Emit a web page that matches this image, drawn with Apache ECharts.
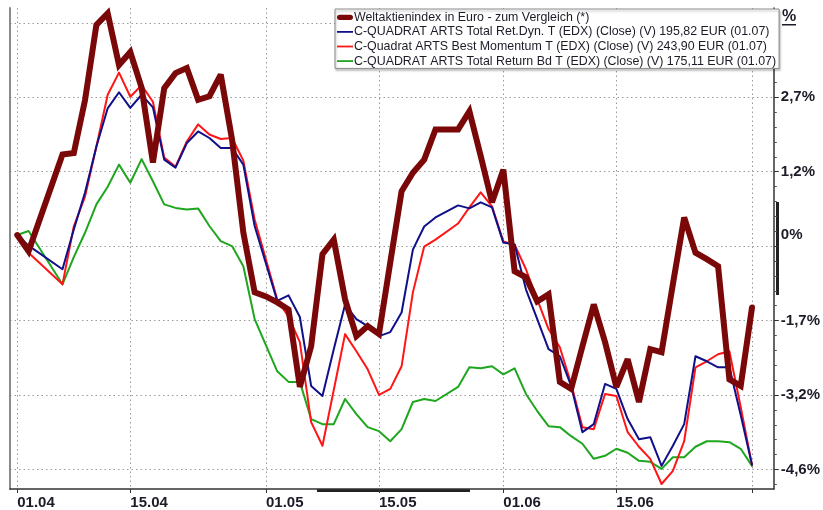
<!DOCTYPE html>
<html>
<head>
<meta charset="utf-8">
<script src="https://cdn.jsdelivr.net/npm/echarts@6/dist/echarts.min.js"></script>
<style>
  html, body { margin: 0; padding: 0; background: #ffffff; }
  #chart { width: 823px; height: 510px; }
</style>
</head>
<body>
<div id="chart"></div>
<script>
// Trading days (Mon–Fri) from 01.04.2015 to 01.07.2015; index 0 = 01.04.
const firstDay = Date.UTC(2015, 3, 1);
const lastDay = Date.UTC(2015, 6, 1);
const days = [];
for (let t = firstDay; t <= lastDay; t += 86400000) {
  const d = new Date(t);
  const wd = d.getUTCDay();
  if (wd !== 0 && wd !== 6) {
    days.push(String(d.getUTCDate()).padStart(2, '0') + '.' + String(d.getUTCMonth() + 1).padStart(2, '0'));
  }
}

// Date labels on the time axis, plus the closing date tick (unlabelled)
const xLabelDates = ['01.04', '15.04', '01.05', '15.05', '01.06', '15.06'];
const xTickDates = ['01.04', '15.04', '01.05', '15.05', '01.06', '15.06', '01.07'];

// Performance in % since 01.04. (null = no price that day)
const seriesNames = [
  'Weltaktienindex in Euro - zum Vergleich (*)',
  'C-QUADRAT ARTS Total Ret.Dyn. T (EDX) (Close) (V) 195,82 EUR (01.07)',
  'C-Quadrat ARTS Best Momentum T (EDX) (Close) (V) 243,90 EUR (01.07)',
  'C-QUADRAT ARTS Total Return Bd T (EDX) (Close) (V) 175,11 EUR (01.07)'
];

const worldIndex = [
  0.00, -0.32, null, null, 1.60, 1.63, 2.69, 4.18, 4.41, 3.38,
  3.64, 2.93, 1.44, 2.92, 3.22, 3.32, 2.69, 2.76, 3.19, 1.90,
  0.05, -1.14, -1.22, -1.34, -1.48, -3.02, -2.21, -0.38, -0.09, -1.28,
  -2.01, -1.81, -1.97, -0.54, 0.87, 1.24, 1.50, 2.10, null, 2.10,
  2.46, 1.57, 0.65, 1.30, -0.72, -0.84, -1.32, -1.18, -2.92, -3.06,
  -2.21, -1.38, -2.13, -3.02, -2.47, -3.32, -2.27, -2.33, -0.98, 0.35,
  -0.35, -0.48, -0.62, -2.87, -3.00, -1.44
];

const totalRetDyn = [
  0.00, -0.21, null, null, -0.68, 0.11, 0.85, 1.76, 2.52, 2.84,
  2.53, 2.79, 2.54, 1.50, 1.34, 1.83, 2.06, 1.93, 1.73, 1.73,
  1.40, 0.18, null, -1.31, -1.20, -1.63, -3.00, -3.20, -2.27, -1.38,
  -1.67, -1.81, -2.01, -1.93, -1.54, -0.29, 0.17, 0.35, null, 0.59,
  0.53, 0.65, 0.55, -0.15, -0.19, -1.08, -1.67, -2.27, -2.41, -3.00,
  -3.92, -3.76, -2.96, -3.06, -3.66, -4.06, -4.02, -4.59, -4.19, -3.76,
  -2.41, -2.51, -2.63, -2.63, -3.58, -4.57
];

const bestMomentum = [
  0.00, -0.35, null, null, -0.98, 0.17, 0.77, 1.76, 2.79, 3.23,
  2.75, 2.98, 2.65, 1.54, 1.36, 1.86, 2.20, 2.00, 1.91, 1.93,
  1.48, 0.31, null, -1.28, -1.63, -2.13, -3.72, -4.19, -3.08, -1.97,
  -2.31, -2.67, -3.18, -3.06, -2.61, -1.14, -0.23, -0.09, null, 0.23,
  0.55, 0.85, 0.57, -0.13, -0.19, -0.68, -1.28, -1.87, -2.23, -2.96,
  -3.82, -3.86, -3.16, -3.20, -3.92, -4.21, -4.45, -4.95, -4.69, -4.10,
  -2.63, -2.51, -2.37, -2.31, -3.42, -4.57
];

const totalReturnBd = [
  0.00, 0.08, null, null, -0.98, -0.44, 0.05, 0.61, 0.96, 1.40,
  1.04, 1.51, 1.07, 0.61, 0.54, 0.51, 0.53, 0.18, -0.12, -0.22,
  -0.62, -1.67, null, -2.71, -2.92, -2.92, -3.66, -3.76, -3.76, -3.26,
  -3.56, -3.82, -3.90, -4.10, -3.86, -3.32, -3.26, -3.30, null, -3.02,
  -2.63, -2.65, -2.61, -2.77, -2.65, -3.16, -3.50, -3.80, -3.82, -4.00,
  -4.15, -4.45, -4.39, -4.25, -4.33, -4.49, -4.51, -4.65, -4.42, -4.42,
  -4.21, -4.10, -4.10, -4.12, -4.25, -4.59
];

// Percent axis: tick labels and the values they sit at
const yLabelTexts = ['2,7%', '1,2%', '0%', '-1,7%', '-3,2%', '-4,6%'];
const yLabelValues = [2.741, 1.2605, 0, -1.7007, -3.1812, -4.6617];

// Axis geometry (grid spacing of the percent scale)
const Y_MIN = -5.05, Y_MAX = 4.515;
const GRID_BASE = -0.2202, GRID_STEP = 1.4805;
const gridValues = [], minorValues = [];
for (let k = -4; k <= 4; k++) {
  const g = GRID_BASE + k * GRID_STEP;
  if (g >= Y_MIN && g <= Y_MAX) gridValues.push(g);
  for (let m = 1; m < 5; m++) {
    const v = g + m * GRID_STEP / 5;
    if (v >= Y_MIN && v <= Y_MAX) minorValues.push(v);
  }
}

const toPoints = arr => arr.map((v, i) => [i, v]).filter(p => p[1] !== null);

const FONT = '"Liberation Sans", Arial, sans-serif';
const TEXT = '#1c1c28';

const colors = ['#7a0808', '#10108a', '#ff1515', '#1fa61f'];
const widths = [6, 2, 2, 2];
const values = [worldIndex, totalRetDyn, bestMomentum, totalReturnBd];

const thickIcon = 'path://M3,0H15A3,3,0,0,1,15,6H3A3,3,0,0,1,3,0Z';
const thinIcon = 'path://M0,0H18V2H0Z';

// Drawing order: green, red, blue, then the thick index line on top
const drawOrder = [3, 2, 1, 0];

const chart = echarts.init(document.getElementById('chart'), null, { renderer: 'canvas' });

chart.setOption({
  animation: false,
  backgroundColor: '#ffffff',
  grid: { left: 10, right: 46, top: 8, bottom: 20, containLabel: false },
  legend: {
    orient: 'vertical',
    left: 335,
    top: 9,
    padding: [1, 3, 0, 2],
    itemGap: 0,
    itemWidth: 16,
    itemHeight: 14,
    backgroundColor: '#ffffff',
    borderColor: '#8a8a8a',
    borderWidth: 1,
    shadowColor: 'rgba(0,0,0,0.25)',
    shadowOffsetY: 2,
    shadowOffsetX: 1,
    shadowBlur: 2,
    selectedMode: false,
    textStyle: { fontFamily: FONT, fontSize: 12.4, color: TEXT, lineHeight: 14.6, padding: [0, 0, 0, -4] },
    data: seriesNames.map((n, i) => ({ name: n, icon: i === 0 ? thickIcon : thinIcon }))
  },
  xAxis: {
    type: 'value',
    min: -0.643,
    max: 66.93,
    axisLine: { show: true, onZero: false, lineStyle: { color: '#333', width: 1.5 } },
    axisTick: {
      show: true, length: 4, inside: false,
      customValues: xTickDates.map(d => days.indexOf(d)),
      lineStyle: { color: '#333', width: 1 }
    },
    axisLabel: {
      show: true,
      customValues: xLabelDates.map(d => days.indexOf(d)),
      formatter: v => days[Math.round(v)],
      align: 'left',
      margin: 6,
      fontFamily: FONT, fontSize: 15, fontWeight: 'bold', color: TEXT
    },
    splitLine: { show: true, lineStyle: { color: '#9a9a9a', width: 1, type: [1.5, 3] } }
  },
  yAxis: [
    {
      type: 'value',
      position: 'right',
      min: Y_MIN,
      max: Y_MAX,
      axisLine: { show: true, onZero: false, lineStyle: { color: '#333', width: 1.5 } },
      axisTick: { show: true, length: 5, inside: false, customValues: gridValues, lineStyle: { color: '#333' } },
      axisLabel: {
        show: true,
        customValues: yLabelValues,
        formatter: v => {
          let best = 0;
          yLabelValues.forEach((lv, i) => { if (Math.abs(lv - v) < Math.abs(yLabelValues[best] - v)) best = i; });
          return yLabelTexts[best];
        },
        margin: 7,
        fontFamily: FONT, fontSize: 15, fontWeight: 'bold', color: TEXT
      },
      splitLine: { show: true, lineStyle: { color: '#9a9a9a', width: 1, type: [1.5, 3] } }
    },
    {
      // minor ticks on the percent axis
      type: 'value',
      position: 'right',
      min: Y_MIN,
      max: Y_MAX,
      axisLine: { show: false, onZero: false },
      axisTick: { show: true, length: 3, inside: false, customValues: minorValues, lineStyle: { color: '#555' } },
      axisLabel: { show: false },
      splitLine: { show: false }
    },
    {
      // left frame line
      type: 'value',
      position: 'left',
      min: Y_MIN,
      max: Y_MAX,
      axisLine: { show: true, onZero: false, lineStyle: { color: '#8a8a8a', width: 2 } },
      axisTick: { show: false },
      axisLabel: { show: false },
      splitLine: { show: false }
    }
  ],
  graphic: [
    {
      type: 'text', left: 782, top: 9,
      style: { text: '%', fontFamily: FONT, fontSize: 16, fontWeight: 'bold', fill: TEXT }
    },
    {
      type: 'rect', left: 782, top: 24, shape: { width: 14, height: 1.5 },
      style: { fill: TEXT }
    },
    {
      type: 'rect', left: 776, top: 202, shape: { width: 3, height: 93 },
      style: { fill: '#222' }
    },
    {
      type: 'rect', left: 317, top: 489, shape: { width: 153, height: 3 },
      style: { fill: '#222' }
    }
  ],
  series: drawOrder.map(i => ({
    name: seriesNames[i],
    type: 'line',
    xAxisIndex: 0,
    yAxisIndex: 0,
    data: toPoints(values[i]),
    showSymbol: false,
    symbol: 'none',
    connectNulls: true,
    color: colors[i],
    lineStyle: { color: colors[i], width: widths[i], join: i === 0 ? 'miter' : 'round', miterLimit: 3, cap: 'round' },
    emphasis: { disabled: true },
    z: 2 + (3 - i)
  }))
});
</script>
</body>
</html>
